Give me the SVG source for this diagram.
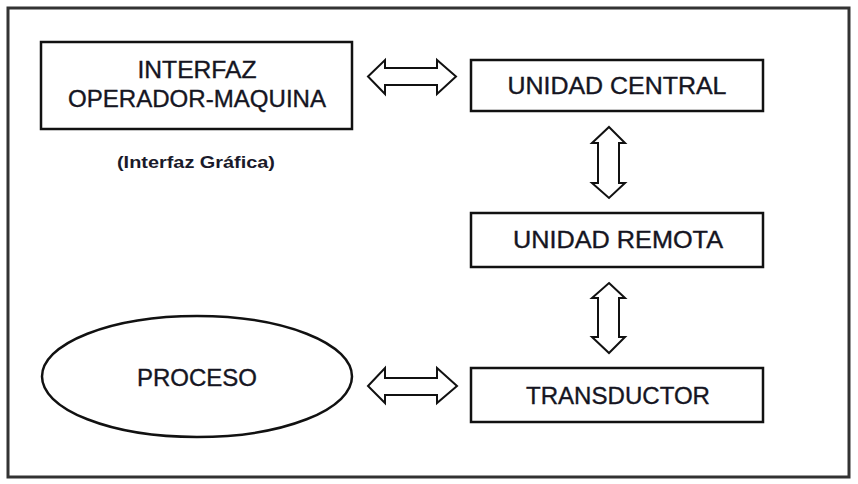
<svg xmlns="http://www.w3.org/2000/svg" width="858" height="484" viewBox="0 0 858 484">
<style>
.box{fill:#fff;stroke:#111;stroke-width:2.5}
.frame{fill:#fff;stroke:#333;stroke-width:3}
.t{font-family:"Liberation Sans",Arial,sans-serif;font-size:23px;fill:#151522;stroke:#151522;stroke-width:0.35;text-anchor:middle}
.s{font-family:"Liberation Sans",Arial,sans-serif;font-size:17px;font-weight:bold;fill:#1a1a2a;text-anchor:middle}
.arr{fill:#fff;stroke:#111;stroke-width:2;stroke-linejoin:miter}
</style>
<rect class="frame" x="8" y="8" width="841" height="469"/>
<g id="interfaz">
<rect class="box" x="41" y="42" width="311" height="87"/>
<text class="t" x="197" y="78" textLength="119" lengthAdjust="spacingAndGlyphs">INTERFAZ</text>
<text class="t" x="197" y="107" textLength="258" lengthAdjust="spacingAndGlyphs">OPERADOR-MAQUINA</text>
</g>
<g id="grafica">
<text class="s" x="196" y="168" textLength="158" lengthAdjust="spacingAndGlyphs">(Interfaz Gráfica)</text>
</g>
<g id="unidad-central">
<rect class="box" x="471" y="60" width="292" height="51"/>
<text class="t" x="617" y="94" textLength="219" lengthAdjust="spacingAndGlyphs">UNIDAD  CENTRAL</text>
</g>
<g id="unidad-remota">
<rect class="box" x="471" y="213" width="292" height="54"/>
<text class="t" x="618" y="248" textLength="210" lengthAdjust="spacingAndGlyphs">UNIDAD  REMOTA</text>
</g>
<g id="transductor">
<rect class="box" x="471" y="368" width="292" height="54"/>
<text class="t" x="618" y="404" textLength="184" lengthAdjust="spacingAndGlyphs">TRANSDUCTOR</text>
</g>
<g id="proceso">
<ellipse class="box" cx="197" cy="376.5" rx="155" ry="60.5" stroke-width="2"/>
<text class="t" x="197" y="386" textLength="120" lengthAdjust="spacingAndGlyphs">PROCESO</text>
</g>
<g id="connectors">
<path class="arr" d="M368,76.5 L385,60 L385,68 L437,68 L437,60 L456,76.5 L437,94 L437,85 L385,85 L385,94 Z"/>
<path class="arr" d="M368,386 L385,368 L385,378 L437,378 L437,368 L457,386 L437,403 L437,395 L385,395 L385,403 Z"/>
<path class="arr" d="M609,127 L625,143 L619,143 L619,183 L625,183 L609,198 L592,183 L598,183 L598,143 L592,143 Z"/>
<path class="arr" d="M609,283 L625,298 L619,298 L619,337 L625,337 L609,353 L592,337 L598,337 L598,298 L592,298 Z"/>
</g>
</svg>
